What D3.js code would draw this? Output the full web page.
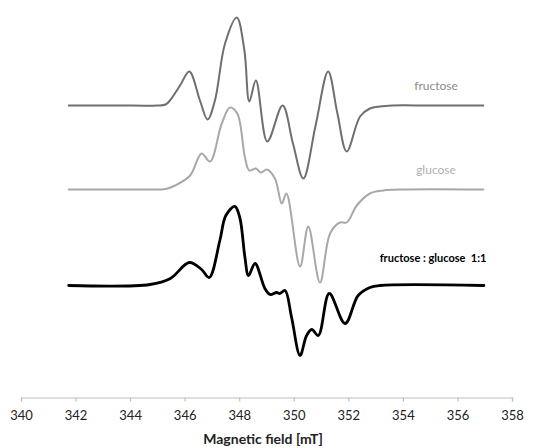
<!DOCTYPE html>
<html>
<head>
<meta charset="utf-8">
<script src="https://cdn.jsdelivr.net/npm/d3@7"></script>
<style>
  html, body { margin: 0; padding: 0; background: #fff; }
  svg { display: block; }
</style>
</head>
<body>
<div id="chart"></div>
<script>
// ---- Data (magnetic field in mT, relative intensity in arbitrary units) ----
const xTicks = [340, 342, 344, 346, 348, 350, 352, 354, 356, 358];
const seriesNames = ["fructose", "glucose", "fructose : glucose  1:1"];
const seriesOffsets = [292, 208, 112];

const fructose = [
  [341.75,0],[343.5,0],[345.0,0],[345.3,1],[345.46,5],[345.83,20],[346.17,34],
  [346.56,5],[346.84,-14],[347.11,5],[347.48,62],[347.91,88],[348.19,55],[348.37,4],
  [348.61,25],[349.03,-36],[349.59,0],[349.97,-38],[350.35,-73],[350.8,-20],
  [351.26,34],[351.6,-8],[351.94,-46],[352.43,-11],[352.79,-3],[353.16,-1],
  [353.6,0],[355.0,0],[356.95,0]
];
const glucose = [
  [341.75,0],[344.5,0],[345.3,0.5],[345.65,4],[346.2,14],[346.62,36],[346.93,28],
  [347.36,66],[347.66,82],[347.93,76],[348.21,32],[348.37,19],[348.61,21],[348.8,17],
  [349.01,20],[349.31,11],[349.56,-14],[349.73,-4],[350.23,-77],[350.53,-37],
  [350.96,-93],[351.33,-44],[351.69,-33],[351.94,-33],[352.31,-16],[352.79,-4],
  [353.28,-1],[354.0,0],[356.95,0]
];
const mixture = [
  [341.75,0],[344.73,1],[345.46,6.7],[346.17,23],[346.62,16],[346.9,8],[347.29,45],
  [347.51,70],[347.84,79],[348.02,68],[348.21,28],[348.34,10],[348.58,22],[348.94,-3],
  [349.13,-9],[349.37,-7],[349.49,-8],[349.68,-5],[349.92,-32],[350.23,-70],
  [350.47,-50],[350.66,-44],[350.9,-50],[351.3,-8],[351.88,-38],[352.36,-10],
  [352.79,-2],[353.16,0],[356.97,0]
];
const seriesData = [fructose, glucose, mixture];

// ---- Layout ----
const W = 560, H = 448;
const svg = d3.select("#chart").append("svg").attr("width", W).attr("height", H);

const x = d3.scaleLinear().domain([340, 358]).range([21, 512]);
const y = d3.scaleLinear().domain([0, 397]).range([397.5, 0.5]);

const colors = ["#6f6f6f", "#a8a8a8", "#000000"];
const widths = [2, 2, 2.8];

const line = d3.line()
  .x(d => x(d[0]))
  .y(d => y(d[1]))
  .curve(d3.curveCatmullRom.alpha(0.5));

seriesData.forEach((s, i) => {
  const pts = s.map(d => [d[0], d[1] + seriesOffsets[i]]);
  svg.append("path")
    .attr("d", line(pts))
    .attr("fill", "none")
    .attr("stroke", colors[i])
    .attr("stroke-width", widths[i])
    .attr("stroke-linejoin", "round")
    .attr("stroke-linecap", "round");
});

// Series labels
const labelPos = [[436, 85], [436, 169], [433, 257]];
seriesNames.forEach((n, i) => {
  svg.append("text")
    .attr("x", labelPos[i][0]).attr("y", labelPos[i][1])
    .attr("text-anchor", "middle").attr("dominant-baseline", "central")
    .attr("font-family", "Lato, 'Open Sans', sans-serif")
    .attr("font-size", i === 2 ? 11 : 12)
    .attr("font-weight", i === 2 ? "bold" : "normal")
    .attr("fill", i === 0 ? "#8a8a8a" : (i === 1 ? "#b0b0b0" : "#000"))
    .attr("xml:space", "preserve")
    .text(n);
});

// X axis
const axis = d3.axisBottom(x).tickValues(xTicks).tickSize(4).tickPadding(9)
  .tickFormat(d3.format("d"));
const gx = svg.append("g").attr("transform", `translate(0,${y(0)})`).call(axis);
gx.select(".domain").attr("stroke", "#c0c0c0").attr("stroke-width", 1.2);
gx.selectAll(".tick line").attr("stroke", "#c0c0c0").attr("stroke-width", 1.2);
gx.selectAll(".tick text")
  .attr("font-family", "Lato, 'Open Sans', sans-serif")
  .attr("font-size", 13)
  .attr("fill", "#222");

svg.append("text")
  .attr("x", 263).attr("y", 444)
  .attr("text-anchor", "middle")
  .attr("font-family", "Lato, 'Open Sans', sans-serif")
  .attr("font-size", 14).attr("font-weight", "bold")
  .attr("fill", "#222")
  .text("Magnetic field [mT]");
</script>
</body>
</html>
